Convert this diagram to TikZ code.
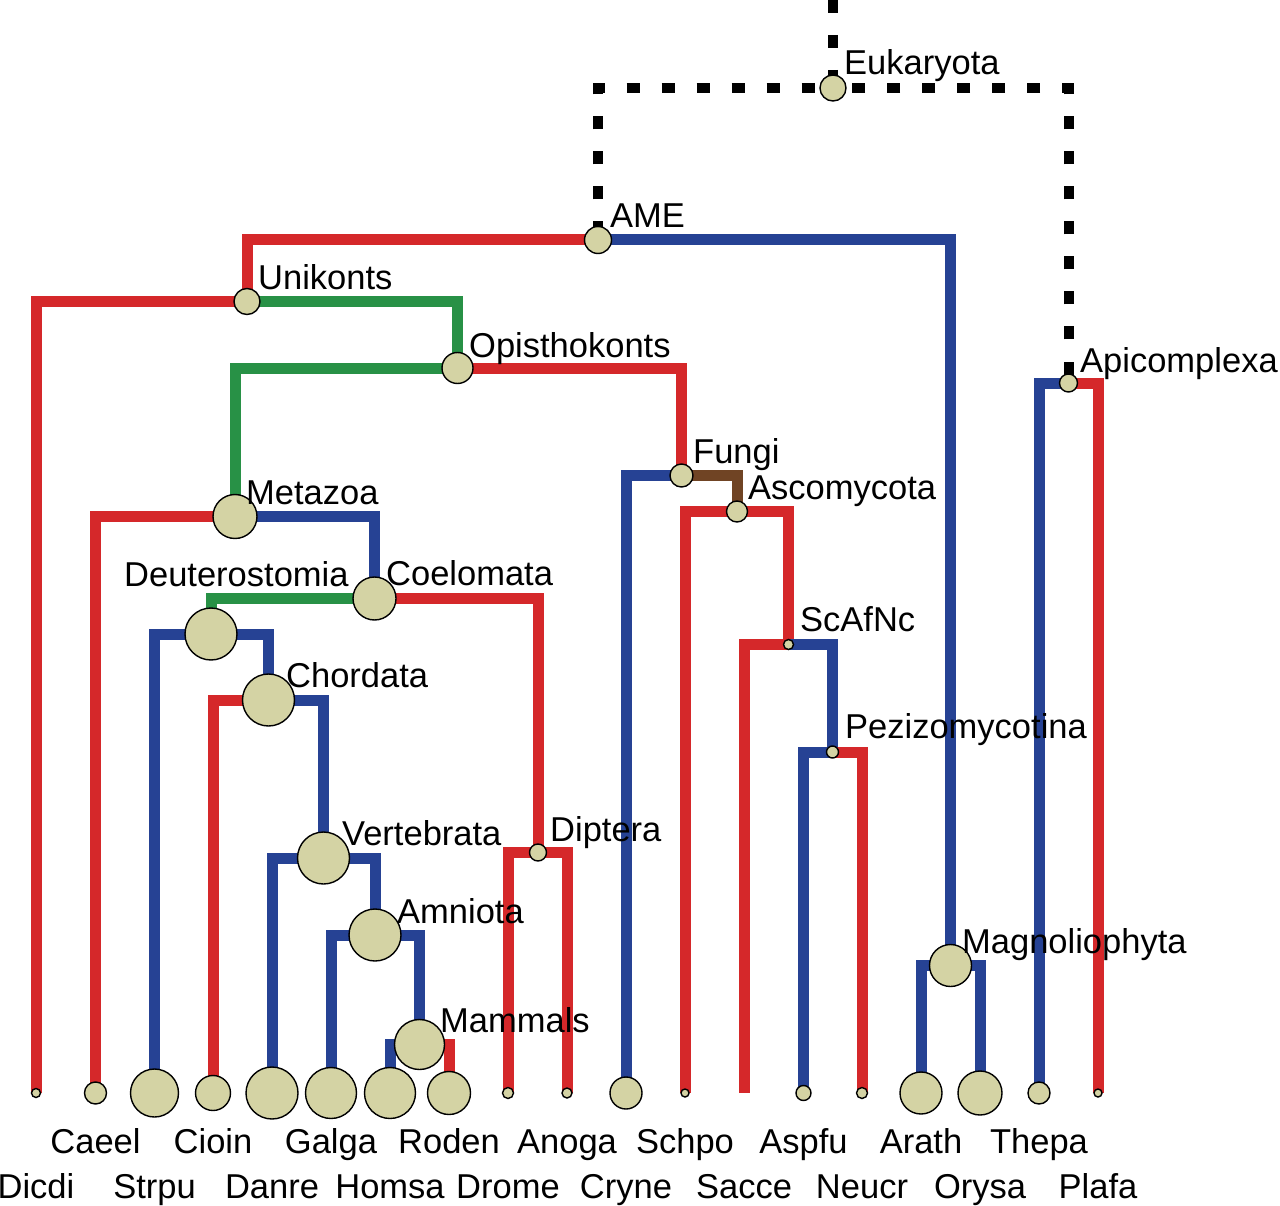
\documentclass[tikz,border=0pt]{standalone}
\usepackage{fontspec}
\setmainfont{Liberation Sans}
\pgfdeclarelayer{bg}
\pgfsetlayers{bg,main}
\definecolor{tred}{RGB}{213,40,42}
\definecolor{tblue}{RGB}{38,66,148}
\definecolor{tgreen}{RGB}{40,145,70}
\definecolor{tbrown}{RGB}{112,68,36}
\definecolor{tfill}{RGB}{212,211,164}
\tikzset{
  br/.style={line width=11pt, line join=miter, line cap=butt},
  dsh/.style={line width=10pt, black, line join=miter, dash pattern=on 13pt off 22pt},
  nd/.style={circle, draw=black, line width=1.4pt, fill=tfill, inner sep=0pt, minimum size=#1},
  lab/.style={font=\fontsize{34.5}{40}\selectfont, inner sep=0pt, anchor=base west},
  leaf/.style={font=\fontsize{34.5}{40}\selectfont, inner sep=0pt, anchor=base},
}
\begin{document}
\begin{tikzpicture}[x=1pt,y=-1pt]
\useasboundingbox (0,0) rectangle (1280,1206);
% internal nodes
\coordinate (root) at (833,0);
\node[nd=26pt] (Euk) at (833,88) {};
\node[nd=27pt] (AME) at (598,240) {};
\node[nd=26pt] (Uni) at (247,301.5) {};
\node[nd=31pt] (Opi) at (457.5,368) {};
\node[nd=44pt] (Met) at (235,516.5) {};
\node[nd=43pt] (Coe) at (374.5,598.5) {};
\node[nd=52pt] (Deu) at (211,634) {};
\node[nd=52pt] (Cho) at (268.5,700) {};
\node[nd=52pt] (Ver) at (323.5,858) {};
\node[nd=52pt] (Amn) at (375,935) {};
\node[nd=50pt] (Mam) at (419.5,1044.5) {};
\node[nd=17pt] (Dip) at (538,852.5) {};
\node[nd=23pt] (Fun) at (681.5,475.5) {};
\node[nd=21pt] (Asc) at (737,511.5) {};
\node[nd=10pt] (Sca) at (788.5,644.5) {};
\node[nd=12pt] (Pez) at (832.5,752) {};
\node[nd=42pt] (Mag) at (950.5,965.5) {};
\node[nd=18pt] (Api) at (1068.5,383) {};
% leaves
\node[nd=9pt]  (Dicdi) at (36,1093) {};
\node[nd=22pt] (Caeel) at (95.5,1093) {};
\node[nd=48pt] (Strpu) at (154.5,1093) {};
\node[nd=35pt] (Cioin) at (213,1093) {};
\node[nd=52pt] (Danre) at (272,1093) {};
\node[nd=51pt] (Galga) at (331,1093) {};
\node[nd=51pt] (Homsa) at (390,1093) {};
\node[nd=43pt] (Roden) at (449,1093) {};
\node[nd=11pt] (Drome) at (508,1093) {};
\node[nd=10pt] (Anoga) at (567,1093) {};
\node[nd=32pt] (Cryne) at (626,1093) {};
\node[nd=8pt]  (Schpo) at (685,1093) {};
\coordinate (Sacce) at (744,1093);
\node[nd=15pt] (Aspfu) at (803.5,1093) {};
\node[nd=11pt] (Neucr) at (862,1093) {};
\node[nd=42pt] (Arath) at (921,1093) {};
\node[nd=44pt] (Orysa) at (980,1093) {};
\node[nd=22pt] (Thepa) at (1039,1093) {};
\node[nd=8pt]  (Plafa) at (1098,1093) {};
% branches
\begin{pgfonlayer}{bg}
\draw[dsh] (root) -- (Euk.center);
\draw[dsh, dash phase=29.5pt] (AME.center) |- (Euk.center);
\draw[dsh, dash phase=26.5pt] (Api.center) |- (Euk.center);
\draw[br,tred]   (AME.center) -| (Uni.center);
\draw[br,tblue]  (AME.center) -| (Mag.center);
\draw[br,tred]   (Uni.center) -| (Dicdi.center);
\draw[br,tgreen] (Uni.center) -| (Opi.center);
\draw[br,tgreen] (Opi.center) -| (Met.center);
\draw[br,tred]   (Opi.center) -| (Fun.center);
\draw[br,tred]   (Met.center) -| (Caeel.center);
\draw[br,tblue]  (Met.center) -| (Coe.center);
\draw[br,tgreen] (Coe.center) -| (Deu.center);
\draw[br,tred]   (Coe.center) -| (Dip.center);
\draw[br,tblue]  (Deu.center) -| (Strpu.center);
\draw[br,tblue]  (Deu.center) -| (Cho.center);
\draw[br,tred]   (Cho.center) -| (Cioin.center);
\draw[br,tblue]  (Cho.center) -| (Ver.center);
\draw[br,tblue]  (Ver.center) -| (Danre.center);
\draw[br,tblue]  (Ver.center) -| (Amn.center);
\draw[br,tblue]  (Amn.center) -| (Galga.center);
\draw[br,tblue]  (Amn.center) -| (Mam.center);
\draw[br,tblue]  (Mam.center) -| (Homsa.center);
\draw[br,tred]   (Mam.center) -| (Roden.center);
\draw[br,tred]   (Dip.center) -| (Drome.center);
\draw[br,tred]   (Dip.center) -| (Anoga.center);
\draw[br,tblue]  (Fun.center) -| (Cryne.center);
\draw[br,tbrown] (Fun.center) -| (Asc.center);
\draw[br,tred]   (Asc.center) -| (Schpo.center);
\draw[br,tred]   (Asc.center) -| (Sca.center);
\draw[br,tred]   (Sca.center) -| (Sacce);
\draw[br,tblue]  (Sca.center) -| (Pez.center);
\draw[br,tblue]  (Pez.center) -| (Aspfu.center);
\draw[br,tred]   (Pez.center) -| (Neucr.center);
\draw[br,tblue]  (Mag.center) -| (Arath.center);
\draw[br,tblue]  (Mag.center) -| (Orysa.center);
\draw[br,tblue]  (Api.center) -| (Thepa.center);
\draw[br,tred]   (Api.center) -| (Plafa.center);
\end{pgfonlayer}
% clade labels
\node[lab] (lEuk) at (844,75) {Eukaryota};
\node[lab] (lAME) at (610,228) {AME};
\node[lab] (lUni) at (258,290) {Unikonts};
\node[lab] (lOpi) at (469,357) {Opisthokonts};
\node[lab] (lApi) at (1080,372) {Apicomplexa};
\node[lab] (lFun) at (693,463) {Fungi};
\node[lab] (lAsc) at (748,499) {Ascomycota};
\node[lab] (lMet) at (246,504) {Metazoa};
\node[lab] (lDeu) at (124,586) {Deuterostomia};
\node[lab] (lCoe) at (386,585) {Coelomata};
\node[lab] (lCho) at (286,687) {Chordata};
\node[lab] (lSca) at (800,631) {ScAfNc};
\node[lab] (lPez) at (845,738) {Pezizomycotina};
\node[lab] (lVer) at (342,845) {Vertebrata};
\node[lab] (lDip) at (550,841) {Diptera};
\node[lab] (lAmn) at (397,923) {Amniota};
\node[lab] (lMam) at (440,1032) {Mammals};
\node[lab] (lMag) at (962,953) {Magnoliophyta};
% leaf labels
\node[leaf] (tDicdi) at (36,1198) {Dicdi};
\node[leaf] (tCaeel) at (95.5,1153) {Caeel};
\node[leaf] (tStrpu) at (154.5,1198) {Strpu};
\node[leaf] (tCioin) at (213,1153) {Cioin};
\node[leaf] (tDanre) at (272,1198) {Danre};
\node[leaf] (tGalga) at (331,1153) {Galga};
\node[leaf] (tHomsa) at (390,1198) {Homsa};
\node[leaf] (tRoden) at (449,1153) {Roden};
\node[leaf] (tDrome) at (508,1198) {Drome};
\node[leaf] (tAnoga) at (567,1153) {Anoga};
\node[leaf] (tCryne) at (626,1198) {Cryne};
\node[leaf] (tSchpo) at (685,1153) {Schpo};
\node[leaf] (tSacce) at (744,1198) {Sacce};
\node[leaf] (tAspfu) at (803.5,1153) {Aspfu};
\node[leaf] (tNeucr) at (862,1198) {Neucr};
\node[leaf] (tArath) at (921,1153) {Arath};
\node[leaf] (tOrysa) at (980,1198) {Orysa};
\node[leaf] (tThepa) at (1039,1153) {Thepa};
\node[leaf] (tPlafa) at (1098,1198) {Plafa};
\end{tikzpicture}
\end{document}
